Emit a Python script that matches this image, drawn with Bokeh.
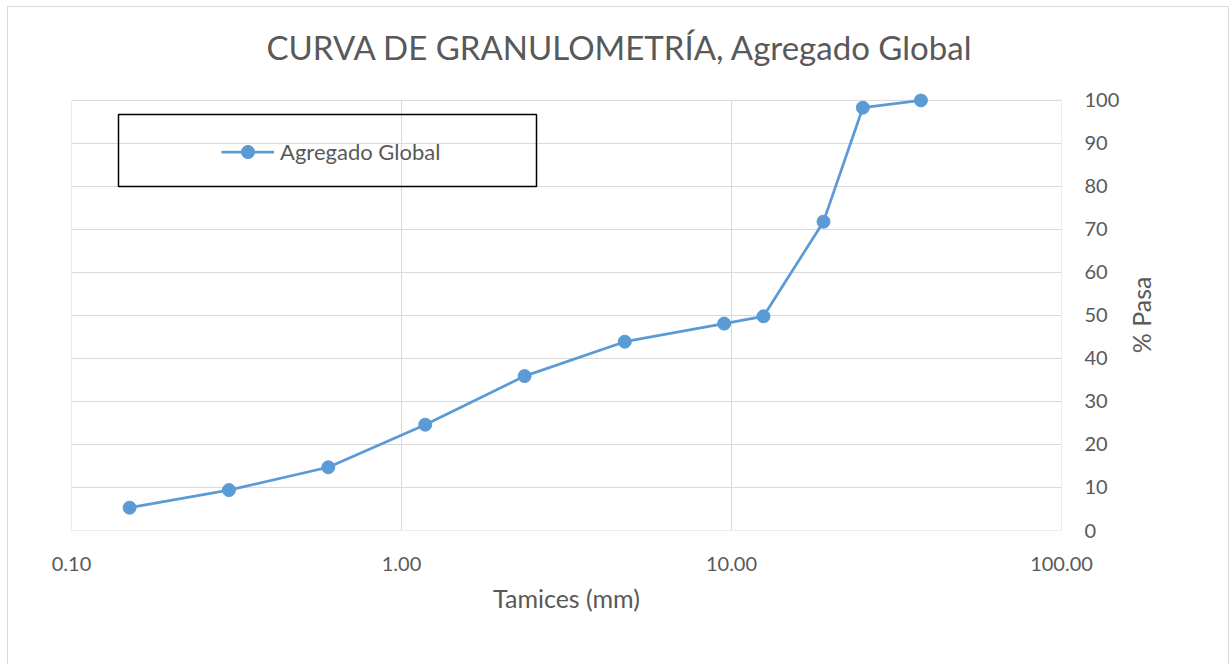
import math
from bokeh.plotting import figure
from bokeh.models import (Range1d, FixedTicker, PrintfTickFormatter, Legend, LegendItem,
                          BoxAnnotation, Title, LinearAxis)
from bokeh.embed import file_html
from bokeh.resources import INLINE

# ---- data ----
tamices_mm = [0.15, 0.30, 0.60, 1.18, 2.36, 4.75, 9.50, 12.50, 19.00, 25.00, 37.50]
pasa_pct = [5.3, 9.4, 14.7, 24.6, 35.9, 43.9, 48.1, 49.8, 71.8, 98.3, 100.0]
x_ticks = [0.1, 1.0, 10.0, 100.0]
y_ticks = [0, 10, 20, 30, 40, 50, 60, 70, 80, 90, 100]
series_name = "Agregado Global"
title_text = "CURVA DE GRANULOMETRÍA, Agregado Global"
x_label = "Tamices (mm)"
y_label = "% Pasa"

X_MIN, X_MAX = 0.1, 100.0
Y_MIN, Y_MAX = 0.0, 100.0
Y_HEADROOM = 1.6      # extra room above the axis top so the top markers are not clipped
Y_LABEL_START = 41.2  # where the rotated y-axis title starts (so it is centred on the axis)

FONT = "Lato"
TXT = "#595959"
GRID = "#d9d9d9"
BLUE = "#5b9bd5"

p = figure(width=1229, height=664, output_backend="svg", toolbar_location=None,
           x_axis_type="log", y_axis_location="right",
           x_range=Range1d(X_MIN, X_MAX), y_range=Range1d(Y_MIN, Y_MAX + Y_HEADROOM),
           min_border_left=71, min_border_right=168, min_border_top=93, min_border_bottom=134)
p.title = None
p.border_fill_color = None
p.background_fill_color = "white"
g = "linear-gradient(#d9d9d9,#d9d9d9)"
p.styles = {"background": (f"{g} 7px 6px / 1px 700px no-repeat, "
                           f"{g} 7px 6px / 1222px 1px no-repeat, "
                           f"{g} 1228px 6px / 1px 700px no-repeat, #ffffff")}
p.outline_line_color = None

# title (spacer keeps it at the right height above the plot area)
p.add_layout(Title(text="\u00a0", text_font=FONT, text_font_size="8px"), "above")
p.add_layout(Title(text=title_text, text_font=FONT, text_font_size="33px",
                   text_font_style="normal", text_color=TXT, align="left", offset=195),
             "above")

# axes
xa = p.xaxis[0]
xa.ticker = FixedTicker(ticks=x_ticks)
xa.formatter = PrintfTickFormatter(format="%.2f")
ya = p.yaxis[0]
ya.ticker = FixedTicker(ticks=y_ticks)

# second right-hand axis that only carries the rotated "% Pasa" title
ya_title = LinearAxis(ticker=FixedTicker(ticks=[Y_LABEL_START]),
                      major_label_overrides={Y_LABEL_START: y_label},
                      major_label_orientation=math.pi / 2)
p.add_layout(ya_title, "right")

for ax in (xa, ya, ya_title):
    ax.axis_line_color = None
    ax.major_tick_line_color = None
    ax.minor_tick_line_color = None
    ax.major_tick_out = 0
    ax.major_tick_in = 0
    ax.minor_tick_out = 0
    ax.minor_tick_in = 0
    ax.major_label_text_font = FONT
    ax.major_label_text_font_size = "20px"
    ax.major_label_text_color = TXT
    ax.axis_label_text_font = FONT
    ax.axis_label_text_font_size = "25px"
    ax.axis_label_text_font_style = "normal"
    ax.axis_label_text_color = TXT
ya_title.major_label_text_font_size = "25px"
ya_title.major_label_standoff = 19
xa.axis_label = x_label
xa.major_label_standoff = 26
xa.axis_label_standoff = 9
ya.major_label_standoff = 23

p.xgrid.grid_line_color = GRID
p.ygrid.grid_line_color = GRID
p.xgrid.minor_grid_line_color = None

# hide the headroom strip above the axis top, then draw the plot-area border
p.add_layout(BoxAnnotation(bottom=Y_MAX, fill_color="white", fill_alpha=1,
                           line_alpha=0, level="underlay"))
p.add_layout(BoxAnnotation(left=X_MIN, right=X_MAX, bottom=Y_MIN, top=Y_MAX,
                           fill_alpha=0, line_color=GRID, line_alpha=1, line_width=1,
                           level="underlay"))

line_r = p.line(tamices_mm, pasa_pct, line_color=BLUE, line_width=2.75)
pts_r = p.scatter(tamices_mm, pasa_pct, size=13, marker="circle",
                  fill_color=BLUE, line_color=BLUE)

# legend box
box = BoxAnnotation(left=47, right=465, top=416, bottom=344,
                    left_units="screen", right_units="screen",
                    top_units="screen", bottom_units="screen",
                    fill_alpha=0, line_color="black", line_alpha=1, line_width=1.5)
p.add_layout(box)

leg = Legend(items=[LegendItem(label=series_name, renderers=[line_r, pts_r])],
             location=(150, 362), padding=0, margin=0, spacing=0,
             glyph_width=53, glyph_height=33, label_height=33, label_standoff=6,
             label_text_font=FONT, label_text_font_size="22px", label_text_color=TXT,
             border_line_alpha=0, background_fill_alpha=0)
p.add_layout(leg, "center")

open("out.html", "w").write(file_html(p, INLINE))
